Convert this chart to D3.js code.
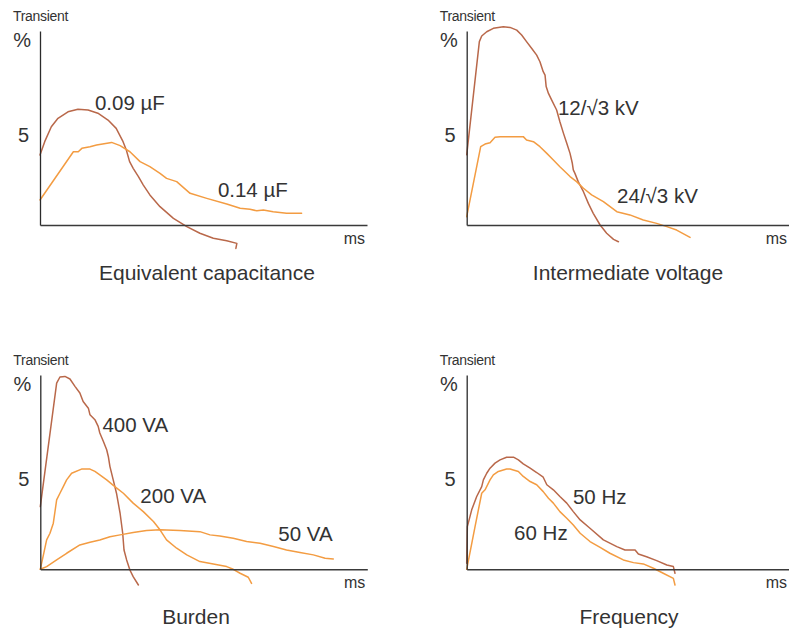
<!DOCTYPE html>
<html>
<head>
<meta charset="utf-8">
<script src="https://cdn.jsdelivr.net/npm/d3@7"></script>
<style>
  html, body { margin: 0; padding: 0; background: #fff; }
  svg { display: block; }
  text { font-family: "Liberation Sans", Arial, Helvetica, sans-serif; fill: #333; }
</style>
</head>
<body>
<svg id="chart" width="789" height="634"></svg>
<script>
// ---------- DATA (x: time, arbitrary ms units 0..100; y: transient %) ----------
const panelTitles = ["Equivalent capacitance", "Intermediate voltage", "Burden", "Frequency"];
const yTickValues = [5];
const yUnitLabel = "%";
const yAxisTitle = "Transient";
const xAxisTitle = "ms";

// Panel 1: Equivalent capacitance
const cap009 = [[0,3.89],[1.44,4.63],[3.46,5.46],[5.5,5.93],[8.56,6.29],[11.6,6.43],[14.7,6.39],[17.7,6.21],[20.8,5.83],[23.3,5.37],[25.4,4.63],[26.4,4.17],[27.4,3.52],[28.5,3.15],[30.1,2.69],[31.6,2.22],[33.6,1.67],[36.7,1.02],[40.8,0.37],[44.9,-0.09],[48.9,-0.46],[53.0,-0.74],[57.1,-0.87],[60.2,-1.02],[59.9,-1.3]];
const cap014 = [[0,1.39],[10.2,4.07],[11.7,4.07],[12.8,4.26],[15.3,4.35],[17.3,4.44],[21.9,4.59],[24.5,4.41],[27.5,4.07],[30.6,3.52],[33.6,3.24],[36.7,2.87],[38.7,2.59],[41.8,2.41],[45.9,1.76],[51.0,1.48],[57.1,1.17],[61.2,0.93],[64.2,0.87],[66.3,0.79],[68.3,0.83],[71.3,0.74],[75.4,0.65],[80.0,0.65]];
// Panel 2: Intermediate voltage
const volt12 = [[0,3.9],[3.87,10.19],[4.59,10.5],[6.12,10.74],[8.15,10.93],[11.2,11.02],[13.25,10.98],[15.3,10.83],[16.8,10.56],[18.3,10.19],[19.9,9.81],[21.4,9.44],[22.4,9.07],[23.4,8.52],[23.96,8.33],[24.3,7.69],[25.0,7.31],[26.0,6.94],[27.5,6.39],[28.5,5.74],[29.6,5.09],[30.6,4.54],[31.6,3.98],[32.3,3.43],[32.6,3.06],[33.1,2.87],[34.1,2.41],[35.7,1.85],[37.2,1.2],[38.7,0.65],[40.8,0],[42.8,-0.46],[44.9,-0.8],[46.4,-0.93]];
const volt24 = [[0,0.46],[4.28,4.35],[5.61,4.5],[7.14,4.57],[8.66,4.87],[10.2,4.91],[17.3,4.91],[18.3,4.72],[20.4,4.63],[22.4,4.35],[24.5,3.98],[26.5,3.61],[28.5,3.24],[30.1,2.96],[31.6,2.69],[33.6,2.41],[35.7,2.04],[38.2,1.67],[41.8,1.3],[45.9,0.74],[49.9,0.56],[54.0,0.28],[58.1,0.09],[61.2,-0.09],[64.2,-0.28],[68.3,-0.69]];
// Panel 3: Burden
const burden400 = [[0,3.48],[5.0,10.33],[6.01,10.67],[7.54,10.7],[9.07,10.56],[10.6,10.15],[12.1,9.78],[13.1,9.31],[14.7,8.94],[15.2,8.57],[16.7,8.3],[17.7,7.93],[18.2,7.56],[19.3,7.09],[20.3,6.63],[20.8,6.26],[21.3,5.7],[22.3,4.96],[23.3,4.22],[24.4,3.11],[25.2,2.0],[25.6,1.07],[26.4,0.52],[27.4,-0.04],[28.4,-0.41],[30.0,-0.87]];
const burden200 = [[0,0],[1.94,1.63],[2.96,2.0],[3.98,2.56],[5.0,3.85],[6.01,4.22],[7.03,4.59],[8.05,4.96],[9.58,5.33],[12.6,5.56],[15.2,5.56],[16.7,5.43],[18.2,5.24],[20.3,4.96],[22.8,4.59],[25.4,4.22],[28.4,3.67],[31.5,3.2],[34.6,2.65],[36.6,2.19],[38.6,1.63],[41.7,1.17],[44.8,0.8],[48.8,0.43],[52.9,0.3],[57.0,0.15],[59.0,0],[61.1,-0.22],[63.6,-0.44],[64.6,-0.78]];
const burden50 = [[0,0],[1.94,0.15],[5.0,0.52],[8.05,0.89],[12.1,1.35],[15.2,1.5],[18.2,1.63],[21.3,1.81],[24.4,1.91],[28.4,2.04],[32.5,2.15],[36.6,2.19],[42.7,2.15],[48.8,2.09],[51.9,1.91],[54.9,1.85],[59.0,1.72],[63.1,1.54],[67.2,1.44],[71.3,1.26],[75.3,1.07],[79.4,0.93],[83.5,0.8],[87.1,0.61],[89.6,0.57]];
// Panel 4: Frequency
const freq50 = [[0,0.33],[0.2,2.37],[1.53,3.3],[3.06,4.04],[4.59,4.59],[5.1,4.96],[6.12,5.33],[7.14,5.61],[8.66,5.89],[10.2,6.07],[12.2,6.22],[14.3,6.22],[15.8,6.07],[17.3,5.85],[19.4,5.61],[21.4,5.37],[23.4,5.11],[24.5,4.69],[26.5,4.41],[28.5,4.04],[30.6,3.67],[32.6,3.2],[34.7,2.74],[37.7,2.28],[41.8,1.63],[45.9,1.26],[48.4,1.07],[51.5,1.07],[52.5,0.85],[55.0,0.7],[58.1,0.48],[61.2,0.24],[63.2,0.15],[63.7,-0.22]];
const freq60 = [[0,0],[2.55,2.37],[4.59,4.22],[5.61,4.41],[7.14,4.96],[8.15,5.24],[9.68,5.43],[12.2,5.56],[13.25,5.56],[15.8,5.43],[17.3,5.15],[19.4,4.87],[21.4,4.69],[23.4,4.31],[25.0,3.94],[26.5,3.67],[28.5,3.2],[30.6,2.83],[32.6,2.46],[34.7,2.0],[37.7,1.54],[40.8,1.22],[43.8,0.89],[47.9,0.52],[51.0,0.37],[54.0,0.3],[57.1,0.06],[60.1,-0.22],[63.2,-0.5],[63.7,-0.87]];

// Series names and their label anchors (data coordinates)
const seriesNames = [
  ["0.09 \u00B5F", "0.14 \u00B5F"],
  ["12/\u221A3 kV", "24/\u221A3 kV"],
  ["400 VA", "200 VA", "50 VA"],
  ["50 Hz", "60 Hz"]
];
const seriesValues = [
  [cap009, cap014],
  [volt12, volt24],
  [burden400, burden200, burden50],
  [freq50, freq60]
];
const seriesTone = [
  ["dark", "light"],
  ["dark", "light"],
  ["dark", "light", "light"],
  ["dark", "light"]
];
const labelAnchors = [
  [[16.8, 6.39], [54.4, 1.56]],
  [[27.9, 6.11], [46.0, 1.22]],
  [[19.0, 7.63], [30.6, 3.68], [72.8, 1.57]],
  [[32.5, 3.63], [14.5, 1.63]]
];

// ---------- LAYOUT ----------
const layout = [
  { left: 40,    top: 31,  bottom: 225,   titleX: 207 },
  { left: 466.7, top: 31,  bottom: 225,   titleX: 628 },
  { left: 40.3,  top: 375, bottom: 569.3, titleX: 196 },
  { left: 466.7, top: 375, bottom: 569.3, titleX: 629 }
];
const plotW = 327;
const canvasW = 789;
const xDomain = [0, 100];
const yDomain = [0, 10.78];
const colors = { dark: "#b9684a", light: "#f39c42" };

const svg = d3.select("#chart");

layout.forEach((L, i) => {
  const g = svg.append("g");
  const x = d3.scaleLinear().domain(xDomain).range([L.left, L.left + plotW]);
  const y = d3.scaleLinear().domain(yDomain).range([L.bottom, L.top]);

  // curves
  const line = d3.line().x(d => x(d[0])).y(d => y(d[1])).curve(d3.curveLinear);
  seriesValues[i].forEach((s, k) => {
    g.append("path")
      .datum(s)
      .attr("d", line)
      .attr("fill", "none")
      .attr("stroke", colors[seriesTone[i][k]])
      .attr("stroke-width", 1.5)
      .attr("stroke-linejoin", "round")
      .attr("stroke-linecap", "round");
  });

  // y axis
  const yAxis = g.append("g")
    .attr("transform", `translate(${L.left},0)`)
    .call(d3.axisLeft(y).tickValues(yTickValues).tickSize(0).tickSizeOuter(0).tickPadding(11));
  yAxis.select(".domain").attr("stroke", "#2b2b2b").attr("stroke-width", 1.3);
  yAxis.selectAll(".tick text")
    .attr("font-size", 20)
    .attr("fill", "#333")
    .style("font-family", "'Liberation Sans', Arial, sans-serif");

  // x axis
  const xAxis = g.append("g")
    .attr("transform", `translate(0,${L.bottom})`)
    .call(d3.axisBottom(x).tickValues([]).tickSizeOuter(0));
  xAxis.select(".domain").attr("stroke", "#3a3a3a").attr("stroke-width", 1.6);

  // axis annotations
  g.append("text")
    .attr("x", L.left - 27).attr("y", L.top - 10)
    .attr("font-size", 14).attr("letter-spacing", -0.3)
    .text(yAxisTitle);
  g.append("text")
    .attr("x", L.left - 9).attr("y", L.top + 16)
    .attr("text-anchor", "end")
    .attr("font-size", 20)
    .text(yUnitLabel);
  g.append("text")
    .attr("x", Math.min(L.left + plotW - 2, canvasW - 2)).attr("y", L.bottom + 19)
    .attr("text-anchor", "end")
    .attr("font-size", 16)
    .text(xAxisTitle);

  // series labels
  seriesNames[i].forEach((name, k) => {
    const a = labelAnchors[i][k];
    g.append("text")
      .attr("x", x(a[0])).attr("y", y(a[1]))
      .attr("font-size", 20.5)
      .text(name);
  });

  // panel title
  g.append("text")
    .attr("x", L.titleX).attr("y", L.bottom + 55)
    .attr("text-anchor", "middle")
    .attr("font-size", 21)
    .text(panelTitles[i]);
});
</script>
</body>
</html>
